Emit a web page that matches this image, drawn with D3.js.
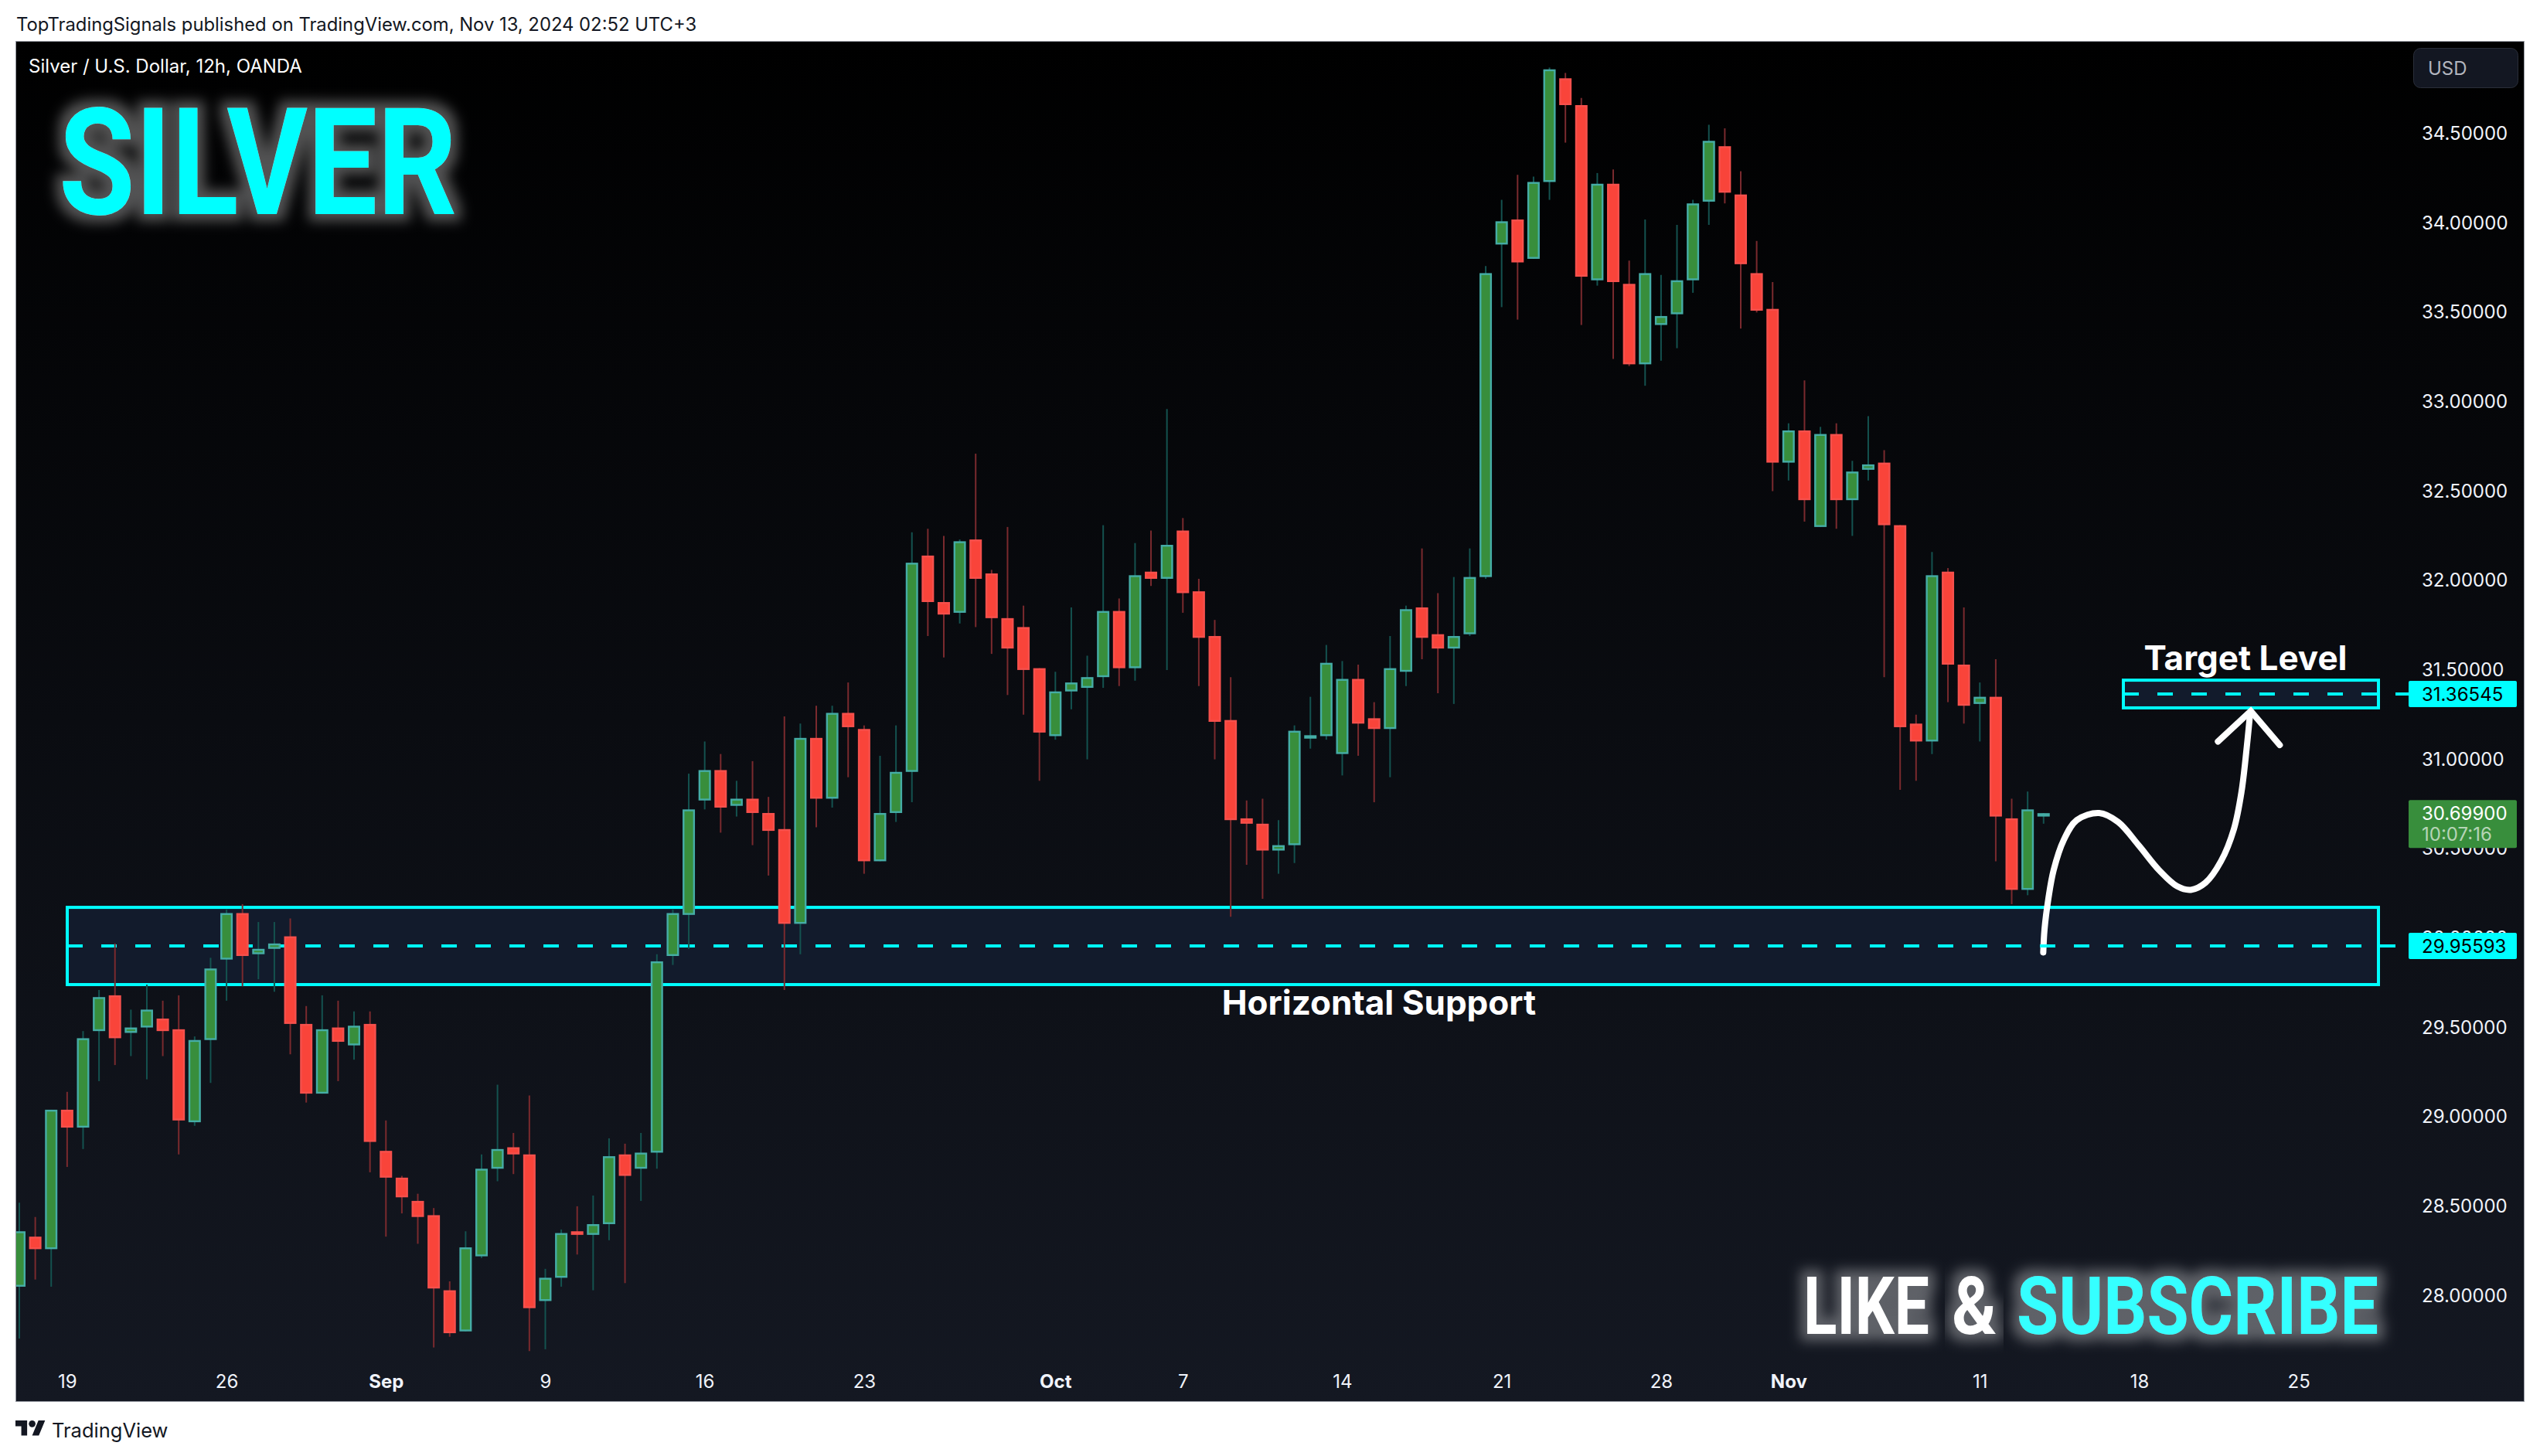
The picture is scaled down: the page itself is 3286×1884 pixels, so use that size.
<!DOCTYPE html>
<html>
<head>
<meta charset="utf-8">
<title>Silver / U.S. Dollar, 12h</title>
<script src="https://cdn.jsdelivr.net/npm/d3@7"></script>
<style>
	html, body { margin:0; padding:0; background:#ffffff; }
	svg { display:block; }
	text { font-family:Inter, "Noto Sans", sans-serif; }
	.tick text { fill:#f0f3fa; font-size:24px; font-family:Inter, sans-serif; }
</style>
</head>
<body>
<script>
// --------------------------------
// data
// one bar = 12h, bar 0 is the first one (clipped) at the left edge
// --------------------------------

var opens = [
	28.05,28.33,28.26,29.04,28.94,29.48,29.68,29.47,29.50,29.55,
	29.49,28.97,29.43,29.88,30.14,29.91,29.94,30.01,29.52,29.13,
	29.50,29.40,29.52,28.81,28.66,28.53,28.45,28.03,27.80,28.22,
	28.71,28.83,28.79,27.97,28.10,28.36,28.34,28.40,28.79,28.71,
	28.80,29.90,30.13,30.77,30.94,30.74,30.78,30.70,30.61,30.08,
	31.12,30.78,31.26,31.17,30.43,30.70,30.93,32.14,31.88,31.82,
	32.23,32.04,31.79,31.74,31.51,31.13,31.38,31.40,31.46,31.83,
	31.51,32.05,32.01,32.28,31.94,31.69,31.22,30.67,30.64,30.49,
	30.52,31.116,31.13,31.03,31.45,31.23,31.17,31.49,31.85,31.70,
	31.62,31.70,32.02,33.88,34.02,33.80,34.23,34.81,34.66,33.68,
	34.22,33.66,33.21,33.43,33.49,33.68,34.12,34.43,34.16,33.72,
	33.52,32.66,32.84,32.30,32.82,32.45,32.62,32.66,32.31,31.20,
	31.10,32.05,31.53,31.31,31.35,30.67,30.27,30.68
];
var highs = [
	28.52,28.44,29.04,29.14,29.48,29.71,29.97,29.60,29.74,29.65,
	29.68,29.45,29.89,30.16,30.19,30.09,30.09,30.11,29.62,29.68,
	29.65,29.59,29.59,28.98,28.67,28.57,28.49,28.08,28.36,28.79,
	29.18,28.91,29.12,28.15,28.37,28.50,28.56,28.88,28.85,28.91,
	29.91,30.16,30.92,31.10,31.03,30.88,30.99,30.79,31.24,31.20,
	31.30,31.30,31.43,31.19,31.02,31.19,32.27,32.29,32.25,32.23,
	32.71,32.06,32.30,31.86,31.51,31.49,31.85,31.58,32.31,31.90,
	32.21,32.28,32.96,32.35,32.01,31.78,31.46,30.77,30.78,30.66,
	31.19,31.35,31.64,31.55,31.53,31.32,31.69,31.86,32.18,31.93,
	32.02,32.18,33.76,34.13,34.27,34.26,34.87,34.84,34.70,34.28,
	34.30,33.79,34.02,33.71,33.99,34.13,34.55,34.53,34.29,33.90,
	33.67,32.88,33.12,32.86,32.88,32.67,32.92,32.73,32.31,31.25,
	32.16,32.07,31.85,31.43,31.56,30.78,30.82,30.70
];
var lows = [
	27.76,28.09,28.05,28.72,28.82,29.20,29.29,29.34,29.21,29.34,
	28.79,28.95,29.19,29.65,29.73,29.77,29.70,29.35,29.08,29.13,
	29.20,29.32,28.69,28.33,28.46,28.29,27.71,27.77,27.80,28.21,
	28.64,28.68,27.69,27.70,28.05,28.23,28.03,28.31,28.07,28.53,
	28.71,29.85,29.94,30.72,30.59,30.68,30.52,30.35,29.71,29.91,
	30.62,30.73,30.90,30.36,30.43,30.65,30.76,31.69,31.57,31.76,
	31.74,31.59,31.36,31.25,30.88,31.11,31.28,31.00,31.40,31.41,
	31.44,31.97,31.50,31.82,31.41,31.00,30.12,30.41,30.22,30.36,
	30.42,31.06,31.11,30.91,31.02,30.76,30.90,31.41,31.56,31.37,
	31.31,31.69,32.01,33.53,33.46,33.80,34.13,34.45,33.43,33.65,
	33.24,33.20,33.09,33.23,33.30,33.61,33.99,34.11,33.41,33.50,
	32.50,32.56,32.33,32.30,32.29,32.25,32.56,31.46,30.83,30.88,
	31.03,31.32,31.20,31.10,30.43,30.19,30.24,30.64
];
var closes = [
	28.36,28.26,29.04,28.94,29.44,29.67,29.44,29.50,29.60,29.48,
	28.98,29.43,29.83,30.14,29.90,29.94,29.97,29.52,29.13,29.49,
	29.42,29.51,28.86,28.66,28.55,28.44,28.04,27.79,28.27,28.71,
	28.82,28.79,27.93,28.10,28.35,28.34,28.40,28.78,28.67,28.80,
	29.87,30.14,30.72,30.94,30.73,30.78,30.70,30.60,30.08,31.12,
	30.78,31.26,31.18,30.43,30.70,30.93,32.10,31.88,31.81,32.22,
	32.01,31.79,31.62,31.50,31.15,31.38,31.43,31.46,31.83,31.51,
	32.03,32.01,32.20,31.93,31.68,31.21,30.66,30.64,30.49,30.52,
	31.16,31.135,31.54,31.45,31.20,31.17,31.51,31.84,31.68,31.62,
	31.69,32.02,33.72,34.01,33.78,34.23,34.86,34.66,33.70,34.22,
	33.67,33.21,33.72,33.48,33.68,34.11,34.46,34.17,33.77,33.51,
	32.66,32.84,32.45,32.82,32.45,32.61,32.65,32.31,31.18,31.10,
	32.03,31.53,31.30,31.35,30.68,30.27,30.72,30.699
];

var priceTicks = [28,28.5,29,29.5,30,30.5,31,31.5,32,32.5,33,33.5,34,34.5];
var timeTickBars = [3,13,23,33,43,53,65,73,83,93,103,111,123,133,143];
var timeTickLabels = ["19","26","Sep","9","16","23","Oct","7","14","21","28","Nov","11","18","25"];
var monthLabels = ["Sep","Oct","Nov"];

// annotation levels (price)
var supportBox = [30.172,29.74];
var supportLevel = 29.95593;
var targetBox = [31.443,31.288];
var targetLevel = 31.36545;
var lastPrice = 30.699;

// hand drawn path, in bar number / price
var curveBars   = [126.98,127.06,127.3,127.63,128.27,129.08,130.49,131.67,132.96,134.25,135.38,136.24,137.16,138.13,138.94,139.42,139.75,139.96];
var curvePrices = [29.92,30.05,30.22,30.38,30.55,30.66,30.70,30.65,30.52,30.38,30.29,30.27,30.31,30.43,30.61,30.82,31.07,31.26];
var arrowBars   = [137.94,140,141.82];
var arrowPrices = [31.10,31.27,31.08];

// --------------------------------
// frame and scales
// --------------------------------

var nWidth = 3286, nHeight = 1884;
var nLeft = 21, nRight = 3265, nTop = 54, nBottom = 1813;

var x = d3.scaleLinear().domain([0,143]).range([25,2973.7]);
var y = d3.scaleLinear().domain([28,34.5]).range([1676.5,173]);

var svg = d3.select("body").append("svg")
	.attr("width",nWidth)
	.attr("height",nHeight)
	.attr("viewBox","0 0 "+nWidth+" "+nHeight);

var defs = svg.append("defs");

var grad = defs.append("linearGradient")
	.attr("id","chartBg").attr("x1","0%").attr("y1","0%").attr("x2","0%").attr("y2","100%");
grad.append("stop").attr("offset","0").attr("stop-color","#000000");
grad.append("stop").attr("offset","1").attr("stop-color","#141822");

defs.append("clipPath").attr("id","chartClip").append("rect")
	.attr("x",nLeft).attr("y",nTop).attr("width",nRight-nLeft).attr("height",nBottom-nTop);

// glow round the big titles
var glow = defs.append("filter").attr("id","glow")
	.attr("x","-15%").attr("y","-40%").attr("width","130%").attr("height","180%");
glow.append("feMorphology").attr("in","SourceAlpha").attr("operator","dilate").attr("radius",9).attr("result","fat");
glow.append("feGaussianBlur").attr("in","fat").attr("stdDeviation",8).attr("result","soft");
glow.append("feFlood").attr("flood-color","#ffffff").attr("flood-opacity",0.32).attr("result","col");
glow.append("feComposite").attr("in","col").attr("in2","soft").attr("operator","in").attr("result","halo");
var glowMerge = glow.append("feMerge");
glowMerge.append("feMergeNode").attr("in","halo");
glowMerge.append("feMergeNode").attr("in","SourceGraphic");

svg.append("rect")
	.attr("x",nLeft-0.5).attr("y",nTop-0.5)
	.attr("width",nRight-nLeft+1).attr("height",nBottom-nTop+1)
	.attr("fill","url(#chartBg)")
	.attr("stroke","#9598a1")
	.attr("stroke-width",1);

// page header and footer
svg.append("text")
	.attr("x",21).attr("y",40)
	.attr("font-size",23.8).attr("fill","#131722")
	.text("TopTradingSignals published on TradingView.com, Nov 13, 2024 02:52 UTC+3");

var logo = svg.append("g").attr("transform","translate(20,1833.7) scale(1.08)").attr("fill","#131722");
logo.append("path").attr("d","M14 22H7V11H0V4h14v18zM28 22h-8l7.5-18h8L28 22z");
logo.append("circle").attr("cx",20).attr("cy",8).attr("r",4);

svg.append("text")
	.attr("x",67).attr("y",1860)
	.attr("font-size",25.5).attr("fill","#131722")
	.text("TradingView");

var chart = svg.append("g").attr("clip-path","url(#chartClip)");

// --------------------------------
// the two level boxes, with dashed lines
// --------------------------------

var nBoxLeft = 87, nTargetLeft = 2747, nBoxRight = 3077, nLevelEnd = 3116;

function drawBox(nX,aBox){
	chart.append("rect")
		.attr("x",nX).attr("y",y(aBox[0]))
		.attr("width",nBoxRight-nX).attr("height",y(aBox[1])-y(aBox[0]))
		.attr("fill","#121b2c")
		.attr("stroke","#00ffff")
		.attr("stroke-width",4);
}
function drawLevel(nX,nLevel){
	chart.append("line")
		.attr("x1",nX).attr("x2",nLevelEnd)
		.attr("y1",y(nLevel)).attr("y2",y(nLevel))
		.attr("stroke","#00ffff")
		.attr("stroke-width",4)
		.attr("stroke-dasharray","20 24");
}
drawBox(nBoxLeft,supportBox);
drawBox(nTargetLeft,targetBox);

// --------------------------------
// hand drawn arrow, under the dashes
// --------------------------------

var curveLine = d3.line()
	.x(function(d){ return x(d[0]); })
	.y(function(d){ return y(d[1]); })
	.curve(d3.curveCatmullRom.alpha(0.5));

chart.append("path")
	.datum(d3.zip(curveBars,curvePrices))
	.attr("d",curveLine)
	.attr("fill","none").attr("stroke","#ffffff").attr("stroke-width",8).attr("stroke-linecap","round");

chart.append("path")
	.datum(d3.zip(arrowBars,arrowPrices))
	.attr("d",curveLine.curve(d3.curveLinear))
	.attr("fill","none").attr("stroke","#ffffff").attr("stroke-width",8)
	.attr("stroke-linecap","round").attr("stroke-linejoin","miter");

drawLevel(87,supportLevel);
drawLevel(nTargetLeft,targetLevel);

// --------------------------------
// candles
// --------------------------------

var bars = d3.range(opens.length).map(function(i){
	return {i:i, o:opens[i], h:highs[i], l:lows[i], c:closes[i], up:closes[i]>=opens[i]};
});

var candle = chart.append("g").selectAll("g").data(bars).join("g");

candle.append("line")
	.attr("x1",function(d){ return x(d.i); })
	.attr("x2",function(d){ return x(d.i); })
	.attr("y1",function(d){ return y(d.h); })
	.attr("y2",function(d){ return y(d.l); })
	.attr("stroke",function(d){ return d.up?"#14524f":"#7a2a2e"; })
	.attr("stroke-width",2);

var nBodyW = 16, nEdge = 2.4;
candle.append("rect")
	.attr("x",function(d){ return x(d.i)-nBodyW/2+nEdge/2; })
	.attr("width",nBodyW-nEdge)
	.attr("y",function(d){ return y(Math.max(d.o,d.c))+nEdge/2; })
	.attr("height",function(d){ return Math.max(Math.abs(y(d.o)-y(d.c))-nEdge,0.5); })
	.attr("fill",function(d){ return d.up?"#388e3c":"#f9443a"; })
	.attr("stroke",function(d){ return d.up?"#45ada6":"#f6504c"; })
	.attr("stroke-width",nEdge);

// --------------------------------
// axes
// --------------------------------

var yAxis = d3.axisRight(y)
	.tickValues(priceTicks)
	.tickSize(0)
	.tickPadding(0)
	.tickFormat(d3.format(".5f"));

svg.append("g").attr("transform","translate(3133,0)").call(yAxis)
	.call(function(g){ g.select(".domain").remove(); });

var xAxis = d3.axisBottom(x)
	.tickValues(timeTickBars)
	.tickSize(0)
	.tickPadding(0)
	.tickFormat(function(d){ return timeTickLabels[timeTickBars.indexOf(d)]; });

svg.append("g").attr("transform","translate(0,1779)").call(xAxis)
	.call(function(g){ g.select(".domain").remove(); })
	.selectAll("text")
	.style("font-weight",function(d){ return monthLabels.indexOf(timeTickLabels[timeTickBars.indexOf(d)])>=0?"700":"400"; });

// --------------------------------
// price labels on the axis
// --------------------------------

function drawPriceLabel(nPrice,szFill,szColor){
	svg.append("rect")
		.attr("x",3116).attr("y",y(nPrice)-17)
		.attr("width",140).attr("height",34).attr("rx",2)
		.attr("fill",szFill);
	svg.append("text")
		.attr("x",3133).attr("y",y(nPrice)+8.5)
		.attr("font-size",24).attr("fill",szColor)
		.text(d3.format(".5f")(nPrice));
}
drawPriceLabel(targetLevel,"#00ffff","#000000");
drawPriceLabel(supportLevel,"#00ffff","#000000");

svg.append("rect")
	.attr("x",3116).attr("y",y(lastPrice)-17)
	.attr("width",140).attr("height",62).attr("rx",2)
	.attr("fill","#388e3c");
svg.append("text")
	.attr("x",3133).attr("y",y(lastPrice)+8.5)
	.attr("font-size",24).attr("fill","#ffffff")
	.text(d3.format(".5f")(lastPrice));
svg.append("text")
	.attr("x",3133).attr("y",y(lastPrice)+36)
	.attr("font-size",24).attr("fill","#ffffff").attr("fill-opacity",0.65)
	.text("10:07:16");

svg.append("rect")
	.attr("x",3122.5).attr("y",62.5)
	.attr("width",135).attr("height",51).attr("rx",9)
	.attr("fill","#131722").attr("stroke","#2a2e39");
svg.append("text")
	.attr("x",3141).attr("y",97)
	.attr("font-size",24).attr("fill","#b2b5be")
	.text("USD");

// --------------------------------
// texts on the chart
// --------------------------------

svg.append("text")
	.attr("x",37).attr("y",94)
	.attr("font-size",24).attr("fill","#ffffff")
	.text("Silver / U.S. Dollar, 12h, OANDA");

svg.append("text")
	.attr("x",1784).attr("y",1313)
	.attr("text-anchor","middle")
	.attr("font-size",44).attr("font-weight",700).attr("fill","#ffffff")
	.text("Horizontal Support");

svg.append("text")
	.attr("x",2905).attr("y",867)
	.attr("text-anchor","middle")
	.attr("font-size",44).attr("font-weight",700).attr("fill","#ffffff")
	.text("Target Level");

function drawTitle(szText,nX,nBase,nSize,nLen,szColor){
	svg.append("text")
		.attr("x",nX).attr("y",nBase)
		.attr("font-size",nSize).attr("font-weight",700)
		.attr("textLength",nLen).attr("lengthAdjust","spacingAndGlyphs")
		.attr("fill",szColor)
		.attr("filter","url(#glow)")
		.style("font-family","Roboto")
		.text(szText);
}
drawTitle("SILVER",76,277,193,515,"#00ffff");
drawTitle("LIKE",2333,1726,103,163,"#ffffff");
drawTitle("&",2525,1726,103,58,"#ffffff");
drawTitle("SUBSCRIBE",2609,1726,103,468,"#35ffff");
</script>
</body>
</html>
